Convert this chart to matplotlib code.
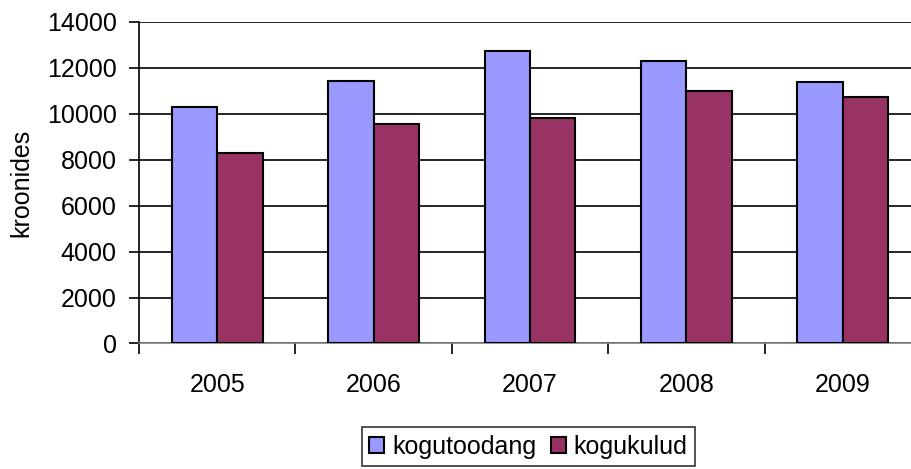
import matplotlib
matplotlib.use('Agg')
import matplotlib.pyplot as plt
import numpy as np

years = ['2005', '2006', '2007', '2008', '2009']
kogutoodang = [10300, 11450, 12750, 12300, 11400]
kogukulud = [8300, 9550, 9800, 11000, 10750]

plt.rcParams['font.family'] = ['Liberation Sans', 'DejaVu Sans']
plt.rcParams['font.size'] = 18

fig = plt.figure(figsize=(9.11, 4.69), dpi=100)
ax = fig.add_axes([0.1526, 0.2676, 0.8584, 0.6855])

x = np.arange(len(years))
bw = 0.29
ax.bar(x - bw/2, kogutoodang, bw, color='#9999FF', edgecolor='black', linewidth=1.5,
       label='kogutoodang', zorder=3)
ax.bar(x + bw/2, kogukulud, bw, color='#993366', edgecolor='black', linewidth=1.5,
       label='kogukulud', zorder=3)

ax.set_xlim(-0.5, len(years) - 0.5)
ax.set_ylim(0, 14000)
ax.set_yticks(range(0, 14001, 2000))
ax.yaxis.grid(True, color='black', linewidth=1.2, zorder=0)
ax.set_axisbelow(True)

ax.set_xticks(x)
ax.set_xticklabels(years)
ax.set_xticks(np.arange(-0.5, len(years)), minor=True)
ax.tick_params(axis='x', which='major', length=0, pad=21)
ax.tick_params(axis='x', which='minor', length=8, width=1.2, direction='out')
ax.tick_params(axis='y', length=7, width=1.2, pad=9)

for side in ['top', 'right']:
    ax.spines[side].set_visible(False)
ax.spines['left'].set_linewidth(1.2)
ax.spines['bottom'].set_linewidth(1.2)
ax.spines['bottom'].set_color('#808080')

ax.set_ylabel('kroonides', labelpad=10)

leg = fig.legend(loc='upper center', bbox_to_anchor=(0.580, 0.089), ncol=2,
                 frameon=True, fancybox=False, edgecolor='black',
                 handlelength=0.6, handleheight=0.6, handletextpad=0.3,
                 columnspacing=0.6, borderpad=0.3, borderaxespad=0)
leg.get_frame().set_linewidth(1.2)

fig.savefig('out.png', dpi=100)
